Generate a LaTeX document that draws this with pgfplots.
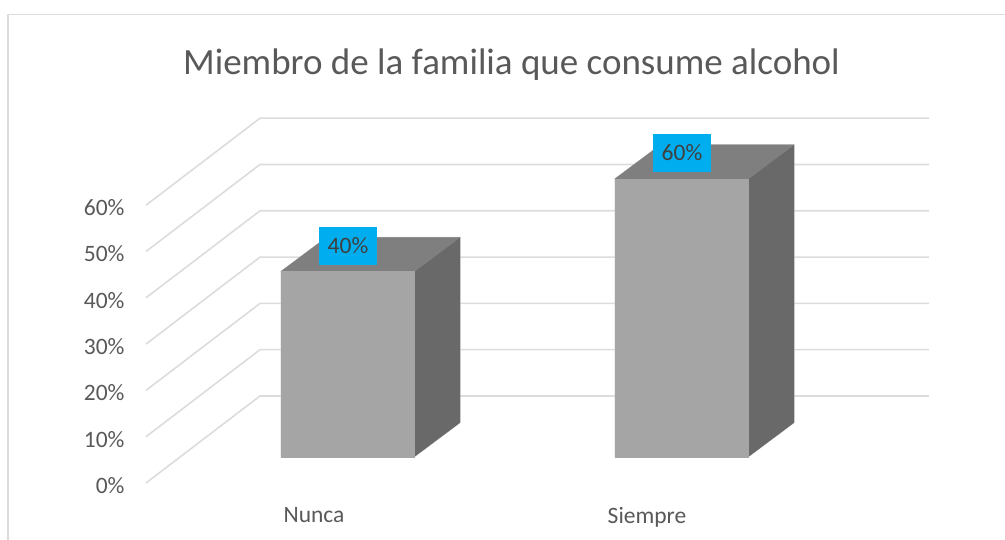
\documentclass[border=0pt]{standalone}
\usepackage{pgfplots}
\pgfplotsset{compat=1.18}
\usepackage{fontspec}
\setmainfont{Carlito}
\definecolor{txt}{HTML}{595959}
\definecolor{gridc}{HTML}{DCDCDC}
\definecolor{front}{HTML}{A5A5A5}
\definecolor{topf}{HTML}{7F7F7F}
\definecolor{sidef}{HTML}{696969}
\definecolor{lab}{HTML}{00AEEF}
\definecolor{edge}{HTML}{CFCFCF}
\begin{document}
\begin{tikzpicture}[x=1pt,y=1pt]
\path[use as bounding box] (0,0) rectangle (1005,540);
\draw[gridc,line width=1.8pt] (8,0) -- (8,525.5) -- (1005,525.5);
\node[text=txt,font=\fontsize{37}{40}\selectfont,anchor=center] at (511.5,475.5) {Miembro de la familia que consume alcohol};
\begin{axis}[
  at={(146pt,57pt)},anchor=south west,
  scale only axis,width=783pt,height=364.8pt,
  xmin=146,xmax=929,ymin=0,ymax=78.79,
  clip=false,
  axis line style={draw=none},
  major tick length=0pt,
  ytick={0,10,20,30,40,50,60},
  yticklabels={0\%,10\%,20\%,30\%,40\%,50\%,60\%},
  xtick={314,647},
  xticklabels={Nunca,Siempre},
  tick label style={text=txt,font=\fontsize{23.5}{26}\selectfont},
  y tick label style={xshift=-18pt,yshift=-2.5pt},
  x tick label style={yshift=-21pt},
]
% wall gridlines: front-left, back-left, back-right
\addplot[gridc,line width=1.6pt] coordinates {(146,0) (260,18.79) (929,18.79)};
\addplot[gridc,line width=1.6pt] coordinates {(146,10) (260,28.79) (929,28.79)};
\addplot[gridc,line width=1.6pt] coordinates {(146,20) (260,38.79) (929,38.79)};
\addplot[gridc,line width=1.6pt] coordinates {(146,30) (260,48.79) (929,48.79)};
\addplot[gridc,line width=1.6pt] coordinates {(146,40) (260,58.79) (929,58.79)};
\addplot[gridc,line width=1.6pt] coordinates {(146,50) (260,68.79) (929,68.79)};
\addplot[gridc,line width=1.6pt] coordinates {(146,60) (260,78.79) (929,78.79)};
% bar Nunca = 40 (floor at 5.7, depth offset 45.5 / 7.34)
\addplot[draw=edge,line width=0.9pt,fill=edge] coordinates {(281,5.7) (281,45.7) (326.5,53.04) (460,53.04) (460,13.04) (414.5,5.7)} -- cycle;
\addplot[fill=sidef,draw=sidef,line width=0.2pt] coordinates {(414.5,5.7) (460,13.04) (460,53.04) (414.5,45.7)} -- cycle;
\addplot[fill=topf,draw=topf,line width=0.2pt] coordinates {(281,45.7) (326.5,53.04) (460,53.04) (414.5,45.7)} -- cycle;
\addplot[fill=front,draw=front,line width=0.2pt] coordinates {(281,5.7) (281,45.7) (414.5,45.7) (414.5,5.7)} -- cycle;
% bar Siempre = 60
\addplot[draw=edge,line width=0.9pt,fill=edge] coordinates {(615,5.7) (615,65.7) (660.5,73.04) (794,73.04) (794,13.04) (748.5,5.7)} -- cycle;
\addplot[fill=sidef,draw=sidef,line width=0.2pt] coordinates {(748.5,5.7) (794,13.04) (794,73.04) (748.5,65.7)} -- cycle;
\addplot[fill=topf,draw=topf,line width=0.2pt] coordinates {(615,65.7) (660.5,73.04) (794,73.04) (748.5,65.7)} -- cycle;
\addplot[fill=front,draw=front,line width=0.2pt] coordinates {(615,5.7) (615,65.7) (748.5,65.7) (748.5,5.7)} -- cycle;
% data labels
\addplot[draw=none,mark=none,nodes near coords,point meta=explicit symbolic,
  every node near coord/.style={fill=lab,text=black!75,anchor=center,inner sep=0pt,
    minimum width=58pt,minimum height=38pt,font=\fontsize{23.5}{26}\selectfont}]
  coordinates {(348,51.19) [\raisebox{-1pt}{40\%}]
               (682,71.27) [\raisebox{-2pt}{60\%}]};
\end{axis}
\end{tikzpicture}
\end{document}
